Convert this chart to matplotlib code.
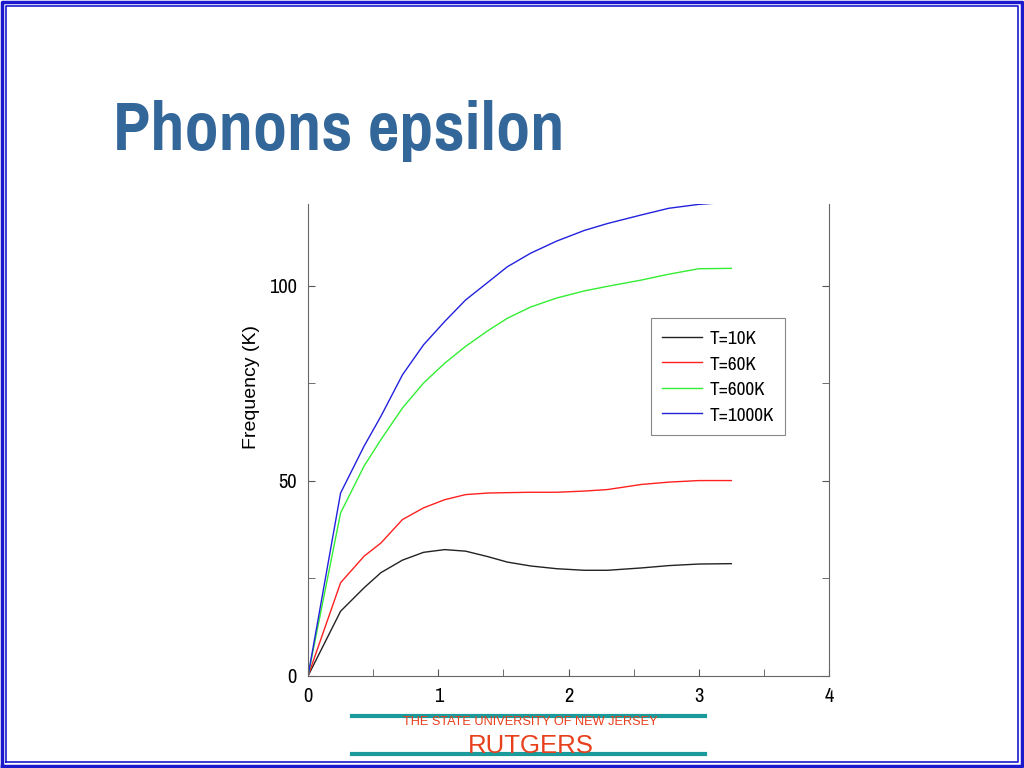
import numpy as np
import matplotlib
matplotlib.use("Agg")
import matplotlib.pyplot as plt
from matplotlib.lines import Line2D
from matplotlib.ticker import MultipleLocator

# data: wavevector vs frequency (K)
k = [0.0, 0.25, 0.43, 0.56, 0.725, 0.887, 1.05, 1.21, 1.38, 1.53, 1.71,
     1.91, 2.12, 2.30, 2.56, 2.77, 3.0, 3.25]
f_10 = [0.0, 16.6, 22.6, 26.5, 29.7, 31.7, 32.4, 32.0, 30.6, 29.2, 28.2,
        27.5, 27.1, 27.1, 27.7, 28.3, 28.7, 28.8]
f_60 = [0.0, 23.9, 30.7, 34.1, 40.1, 43.1, 45.2, 46.5, 46.9, 47.0, 47.1,
        47.1, 47.4, 47.8, 49.1, 49.7, 50.1, 50.1]
f_600 = [0.0, 41.8, 53.8, 60.6, 68.7, 75.1, 80.2, 84.5, 88.5, 91.7, 94.6,
         96.9, 98.7, 99.9, 101.5, 103.0, 104.4, 104.5]
f_1000 = [0.0, 46.9, 58.9, 66.6, 77.2, 84.9, 90.9, 96.4, 100.9, 104.9, 108.4,
          111.5, 114.2, 116.0, 118.2, 119.9, 120.9, 121.5]

labels = ["T=10K", "T=60K", "T=600K", "T=1000K"]
colors = ["#222222", "#ff2020", "#33ee33", "#2222dd"]

narrow = ["Liberation Sans Narrow", "Arial Narrow", "Pragati Narrow",
          "Roboto Condensed", "Archivo Narrow", "PT Sans Narrow", "DejaVu Sans"]
plain = ["Liberation Sans", "Arimo", "DejaVu Sans"]

fig = plt.figure(figsize=(10.24, 7.68), dpi=100)

# slide border (double blue line)
for off, lw in [(0.0015, 2.5), (0.006, 1.2)]:
    fig.add_artist(Line2D([off, 1 - off, 1 - off, off, off],
                          [off * 1.33, off * 1.33, 1 - off * 1.33, 1 - off * 1.33, off * 1.33],
                          transform=fig.transFigure, color="#1a1acc", lw=lw))

fig.text(0.110, 0.805, "Phonons epsilon", family=narrow, fontsize=53.5,
         fontweight="bold", color="#336699", va="baseline", ha="left")

ax = fig.add_axes([0.3008, 0.1198, 0.5088, 0.6146])
for y, lab, c in zip([f_10, f_60, f_600, f_1000], labels, colors):
    ax.plot(k, y, color=c, lw=1.0, label=lab)

ax.set_xlim(0, 4)
ax.set_ylim(0, 121)
ax.xaxis.set_major_locator(MultipleLocator(1))
ax.xaxis.set_minor_locator(MultipleLocator(0.5))
ax.yaxis.set_major_locator(MultipleLocator(50))
ax.yaxis.set_minor_locator(MultipleLocator(25))
ax.tick_params(which="both", direction="in", right=True, top=False,
               color="#555555", labelsize=16, length=5)
ax.tick_params(axis="y", pad=8)
ax.tick_params(axis="x", pad=8)
for lab in ax.get_xticklabels() + ax.get_yticklabels():
    lab.set_family(narrow)
ax.spines["top"].set_visible(False)
for s in ["left", "right", "bottom"]:
    ax.spines[s].set_color("#666666")
    ax.spines[s].set_linewidth(0.8)
ax.set_ylabel("Frequency (K)", fontsize=14, family=plain)
ax.yaxis.set_label_coords(-0.093, 0.612)

leg = ax.legend(loc="upper left", bbox_to_anchor=(0.658, 0.758), fancybox=False,
                framealpha=1, edgecolor="#888888", handlelength=1.9,
                prop={"family": narrow, "size": 15}, borderpad=0.55,
                labelspacing=0.38, handletextpad=0.35, borderaxespad=0)
leg.get_frame().set_linewidth(0.8)

# footer
for yy in [0.0677, 0.0182]:
    fig.add_artist(Line2D([0.344, 0.688], [yy, yy], transform=fig.transFigure,
                          color="#1a9a9a", lw=3))
fig.text(0.518, 0.0565, "THE STATE UNIVERSITY OF NEW JERSEY", ha="center",
         va="baseline", fontsize=9.2, color="#e8401c", family=plain)
fig.text(0.518, 0.0195, "RUTGERS", ha="center", va="baseline", fontsize=18.5,
         color="#e8401c", family=plain)

fig.savefig("out.png", dpi=100)
